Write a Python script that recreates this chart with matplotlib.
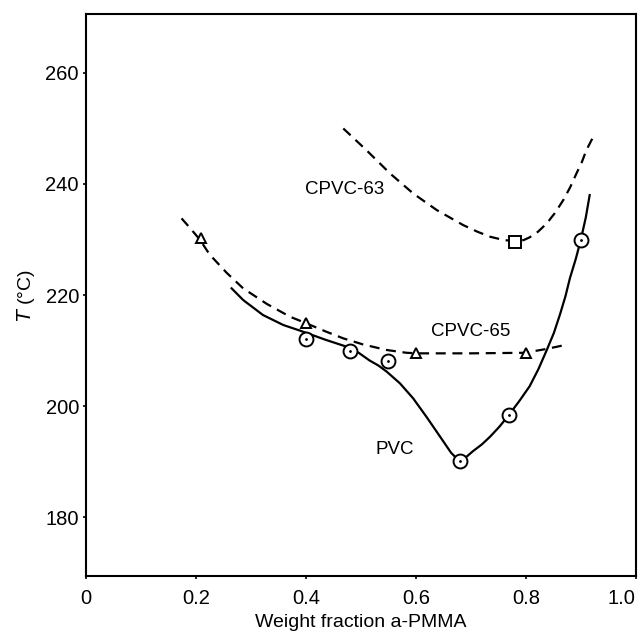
import matplotlib
matplotlib.use("Agg")
import matplotlib.pyplot as plt

plt.rcParams['font.family'] = ['Liberation Sans', 'DejaVu Sans']

# measured points
pvc_x = [0.40, 0.48, 0.55, 0.68, 0.77, 0.90]
pvc_y = [212.1, 210.0, 208.1, 190.1, 198.4, 230.0]
c65_x = [0.21, 0.40, 0.60, 0.80]
c65_y = [230.3, 214.9, 209.5, 209.5]
c63_x = [0.78]
c63_y = [229.5]

# smooth curves
pvc_curve_x = [0.265, 0.286, 0.322, 0.359, 0.389, 0.437, 0.474, 0.496, 0.516, 0.532,
               0.547, 0.571, 0.595, 0.619, 0.644, 0.655, 0.664, 0.672, 0.680, 0.690,
               0.704, 0.720, 0.735, 0.752, 0.769, 0.788, 0.807, 0.823, 0.838, 0.851,
               0.862, 0.872, 0.880, 0.891, 0.900, 0.909, 0.916]
pvc_curve_y = [221.2, 219.1, 216.4, 214.6, 213.6, 211.9, 210.7, 209.6, 208.2, 207.3,
               206.2, 204.1, 201.4, 198.1, 194.5, 192.9, 191.6, 190.8, 190.4, 190.7,
               191.9, 193.1, 194.5, 196.3, 198.4, 200.9, 203.6, 206.7, 210.1, 213.2,
               216.5, 219.8, 223.0, 226.6, 230.0, 234.0, 238.0]
c65_curve_x = [0.174, 0.190, 0.207, 0.225, 0.256, 0.286, 0.329, 0.371, 0.401, 0.437,
               0.468, 0.504, 0.547, 0.583, 0.604, 0.70, 0.798, 0.838, 0.871]
c65_curve_y = [233.8, 232.0, 230.0, 227.3, 224.0, 221.2, 218.4, 216.1, 214.9, 213.4,
               212.2, 211.1, 210.1, 209.6, 209.5, 209.5, 209.6, 210.3, 211.0]
c63_curve_x = [0.468, 0.510, 0.553, 0.595, 0.638, 0.686, 0.712, 0.735, 0.760, 0.783,
               0.796, 0.807, 0.822, 0.838, 0.853, 0.868, 0.881, 0.892, 0.902, 0.910,
               0.922]
c63_curve_y = [250.0, 246.1, 241.9, 238.3, 235.3, 232.6, 231.4, 230.5, 229.9, 229.7,
               229.9, 230.4, 231.4, 232.9, 234.8, 237.1, 239.5, 241.9, 244.0, 246.1,
               248.4]

xticks = [0, 0.2, 0.4, 0.6, 0.8, 1.0]
xticklabels = ['0', '0.2', '0.4', '0.6', '0.8', '1.0']
yticks = [180, 200, 220, 240, 260]

fig = plt.figure(figsize=(6.41, 6.40), dpi=100)
ax = fig.add_axes([0.134, 0.1, 0.858, 0.878])

ax.plot(pvc_curve_x, pvc_curve_y, color='black', lw=1.6, solid_joinstyle='round')
ax.plot(c65_curve_x, c65_curve_y, color='black', lw=1.6, dashes=(4.5, 3))
ax.plot(c63_curve_x, c63_curve_y, color='black', lw=1.6, dashes=(4.5, 3))

# circles with centre dot
ax.plot(pvc_x, pvc_y, 'o', ms=10, mfc='white', mec='black', mew=1.4, ls='none')
ax.plot(pvc_x, pvc_y, '.', ms=2, color='black', ls='none')
ax.plot(c65_x, c65_y, '^', ms=7, mfc='white', mec='black', mew=1.4, ls='none')
ax.plot(c63_x, c63_y, 's', ms=9, mfc='white', mec='black', mew=1.4, ls='none')

ax.text(0.398, 239.0, 'CPVC-63', fontsize=13.5, va='center', ha='left')
ax.text(0.628, 213.4, 'CPVC-65', fontsize=13.5, va='center', ha='left')
ax.text(0.527, 192.2, 'PVC', fontsize=13.5, va='center', ha='left')

ax.set_xlim(0, 1.0)
ax.set_ylim(169.4, 270.6)
ax.set_xticks(xticks)
ax.set_xticklabels(xticklabels)
ax.set_yticks(yticks)
ax.tick_params(axis='both', direction='out', length=2, width=1.2, labelsize=14.5)
ax.tick_params(axis='x', pad=7)
ax.tick_params(axis='y', pad=3)
ax.get_xticklabels()[-1].set_horizontalalignment('right')
for s in ax.spines.values():
    s.set_linewidth(1.5)

ax.set_xlabel('Weight fraction a-PMMA', fontsize=14, labelpad=5)
ax.set_ylabel(r'$\mathit{T}$ (°C)', fontsize=14, labelpad=6)

fig.savefig('out.png', dpi=100)
